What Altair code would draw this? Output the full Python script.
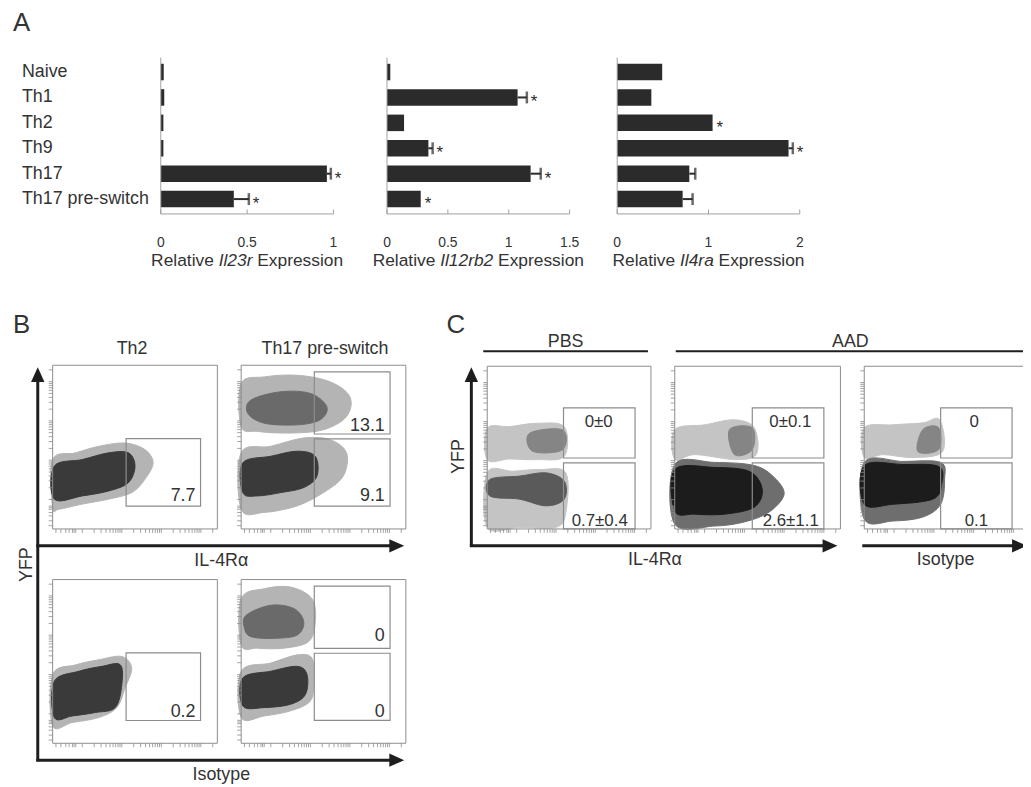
import altair as alt
import pandas as pd

# ------------------------------------------------------------------ data
CATEGORIES = ["Naive", "Th1", "Th2", "Th9", "Th17", "Th17 pre-switch"]
GENES = ["Il23r", "Il12rb2", "Il4ra"]

IL23R_MEAN = [0.017, 0.02, 0.015, 0.015, 0.962, 0.423]
IL23R_UPPER = [None, None, None, None, 0.985, 0.51]
IL23R_STAR = [False, False, False, False, True, True]
IL23R_TICKS = [0, 0.5, 1]
IL23R_TICK_LABELS = ["0", "0.5", "1"]

IL12RB2_MEAN = [0.027, 1.073, 0.14, 0.34, 1.18, 0.277]
IL12RB2_UPPER = [None, 1.149, None, 0.375, 1.263, None]
IL12RB2_STAR = [False, True, False, True, True, True]
IL12RB2_TICKS = [0, 0.5, 1, 1.5]
IL12RB2_TICK_LABELS = ["0", "0.5", "1", "1.5"]

IL4RA_MEAN = [0.493, 0.374, 1.045, 1.877, 0.79, 0.717]
IL4RA_UPPER = [None, None, None, 1.924, 0.855, 0.826]
IL4RA_STAR = [False, False, True, True, False, False]
IL4RA_TICKS = [0, 1, 2]
IL4RA_TICK_LABELS = ["0", "1", "2"]

# flow panels: outlines of the dot clouds (panel units 0-100), gates and gate values
FLOW_TICKS = [2, 5, 8, 10, 12, 13, 14, 18, 25.2, 29.4, 32.4, 34.8, 36.7, 38.3, 39.7, 40.9,
              42, 49.2, 53.4, 56.4, 58.8, 60.7, 62.3, 63.7, 64.9, 66, 73.2, 77.4, 80.4,
              82.8, 84.7, 86.3, 87.7, 88.9, 90, 97.2]

B1_OUTER = [(0, 42.4), (14, 46.5), (28, 50.5), (44, 52.5), (56, 48.5), (61, 40.4), (56, 30.3),
            (48, 22.2), (34, 18.2), (18, 15.2), (4, 12.1), (0, 13.1)]
B1_CORE = [(1, 38.4), (18, 42.4), (34, 46.5), (46, 46.5), (50, 38.4), (46, 28.3), (34, 23.2),
           (18, 20.2), (1, 18.2)]
B2_UP_OUTER = [(0, 88.9), (14, 92.9), (34, 93.9), (54, 89.9), (66, 80.8), (64, 68.7), (50, 60.6),
               (30, 58.6), (10, 59.6), (0, 62.6)]
B2_UP_CORE = [(6, 78.8), (24, 83.8), (42, 82.8), (52, 74.7), (48, 66.7), (34, 63.6), (14, 64.6),
              (4, 70.7)]
B2_LO_OUTER = [(0, 46.5), (18, 50.5), (38, 55.6), (54, 54.5), (64, 46.5), (62, 32.3), (50, 22.2),
               (34, 14.1), (14, 10.1), (0, 12.1)]
B2_LO_CORE = [(1, 40.4), (18, 44.4), (34, 47.5), (45, 44.4), (46, 32.3), (38, 25.3), (24, 22.2),
              (10, 20.2), (1, 22.2)]
B3_OUTER = [(0, 41.9), (14, 47.9), (28, 51), (42, 53), (48, 45.9), (44, 33.9), (39, 21.8),
            (28, 15.7), (12, 12.7), (0, 10.7)]
B3_CORE = [(1, 37.9), (16, 44), (30, 47), (41, 48), (42, 35.9), (38, 21.8), (26, 18.8),
           (12, 16.7), (1, 15.7)]
B4_UP_OUTER = [(0, 88.3), (14, 94.4), (30, 95.4), (43, 88.3), (45, 74.2), (41, 62.1), (26, 58.1),
               (10, 58.1), (0, 60.1)]
B4_UP_CORE = [(3, 78.2), (18, 84.3), (32, 82.3), (38, 74.2), (34, 66.1), (20, 64.1), (6, 65.1),
              (2, 70.2)]
B4_LO_OUTER = [(0, 44), (18, 49), (34, 54), (43, 52), (44, 37.9), (42, 25.8), (30, 19.8),
               (14, 16.7), (0, 15.7)]
B4_LO_CORE = [(1, 39.9), (18, 44), (34, 47), (40, 41.9), (39, 29.8), (30, 23.8), (14, 21.8),
              (1, 22.8)]

C1_UP_OUTER = [(0, 61.9), (13.7, 62.9), (29.8, 64.9), (47, 62.9), (47, 44.6), (29.8, 42.6),
               (13.7, 43), (0, 42.6)]
C1_UP_CORE = [(25.8, 58.8), (46, 60.9), (46, 48.7), (27.8, 47.7)]
C1_LO_OUTER = [(0, 34.5), (15.7, 35.5), (31.9, 36.5), (48, 34.5), (48, 10.1), (42, 1), (19.8, 1),
               (0, 1)]
C1_LO_CORE = [(1.6, 30.4), (19.8, 32.5), (35.9, 34.5), (47, 29.4), (47, 18.3), (35.9, 14.2),
              (19.8, 18.3), (1.6, 20.3)]
C2_UP_OUTER = [(0, 61), (18, 64), (36, 67.1), (48, 62.2), (49.2, 45.7), (36, 42.7), (12, 45.7),
               (0, 42.7)]
C2_UP_CORE = [(33, 61), (46.8, 62.2), (46.8, 48.8), (36, 45.7)]
C2_LO_OUTER = [(0, 39.6), (24, 40.9), (48, 39), (60, 31.7), (66, 21.3), (57, 10.4), (42, 4.3),
               (24, 1.8), (0, 3)]
C2_LO_CORE = [(0, 36.6), (24, 37.8), (45, 35.4), (52.8, 24.4), (48, 13.4), (30, 9.1), (12, 9.1),
              (0, 11)]
C3_UP_OUTER = [(0, 62.2), (17.4, 64), (35.3, 65.2), (45.5, 67.1), (47.3, 47.6), (29.3, 43.9),
               (11.4, 45.7), (0, 43.9)]
C3_UP_CORE = [(35.3, 61), (44.9, 62.2), (44.9, 48.8), (32.3, 47.6)]
C3_LO_OUTER = [(0, 40.9), (23.4, 41.5), (46.1, 40.9), (48.5, 30.5), (46.1, 15.2), (35.3, 7.3),
               (17.4, 4.9), (0, 6.1)]
C3_LO_CORE = [(0, 39), (23.4, 39.6), (44.9, 38.4), (46.7, 27.4), (41.3, 18.3), (17.4, 15.2),
              (0, 15.2)]

# gates: (x0, x1, y0, y1)
B_SINGLE_GATE = [(44.6, 89.8, 13.9, 55.2)]
B_DOUBLE_GATE = [(44.4, 90.4, 58, 96), (44.4, 90.4, 14, 55)]
C1_GATES = [(46.6, 90.3, 43.6, 74.4), (46.6, 90.3, 0, 40.6)]
C2_GATES = [(46.8, 90.0, 43.6, 74.4), (46.8, 90.0, 0, 40.6)]
C3_GATES = [(46.1, 89.2, 43.6, 74.4), (46.1, 89.2, 0, 40.6)]

# gate values: (x, y, text)
B1_VALUES = [(86.7, 16.8, "7.7")]
B2_VALUES = [(87.2, 60, "13.1"), (87.2, 16.8, "9.1")]
B3_VALUES = [(86.7, 16.3, "0.2")]
B4_VALUES = [(87.2, 62.5, "0"), (87.2, 16.3, "0")]
C1_VALUES = [(68.1, 62.9, "0±0"), (68.7, 2.0, "0.7±0.4")]
C2_VALUES = [(69.8, 62.9, "0±0.1"), (70.0, 2.0, "2.6±1.1")]
C3_VALUES = [(66.3, 62.9, "0"), (67.7, 2.0, "0.1")]

PANEL_LETTERS = ["A", "B", "C"]
B_COLUMN_TITLES = ["Th2", "Th17 pre-switch"]
C_GROUPS = ["PBS", "AAD"]
AXIS_NAMES = ["YFP", "IL-4Rα", "Isotype"]

# ------------------------------------------------------------------ style / layout
FONT = "Liberation Sans"
INK = "#2b2b2b"
TXT = "#333333"
AXIS_GREY = "#a0a0a0"
BOX = "#8c8c8c"
ARROW = "#1e1e1e"
LABEL_FS = 18

A_TOP, A_BOT = 47, 204
A_TICK_Y, A_TITLE_Y = 238, 257
A_XR = [(154, 328), (382, 566), (614, 798)]

CHAR_W = {"R": .722, "e": .556, "l": .222, "a": .556, "t": .278, "i": .222, "v": .5, " ": .278,
          "E": .667, "x": .5, "p": .556, "r": .333, "s": .5, "o": .556, "n": .556, "I": .278,
          "1": .556, "2": .556, "3": .556, "4": .556, "b": .556}


def tw(s, fs):
    return sum(CHAR_W.get(c, .556) for c in s) * fs


def one(text):
    return pd.DataFrame({"t": [text]})


def txt(text, x, y, fs=LABEL_FS, align="center", angle=0, style="normal"):
    kw = dict(align=align, baseline="alphabetic", fontSize=fs, font=FONT, color=TXT, fontStyle=style)
    if angle:
        kw.update(angle=angle, baseline="middle")
    return alt.Chart(one(text)).mark_text(**kw).encode(text="t:N", x=alt.value(x), y=alt.value(y))


def bar_panel(means, uppers, stars, domain, ticks, tick_labels, gene, xr, with_labels):
    ups = [u if u is not None else m for m, u in zip(means, uppers)]
    df = pd.DataFrame({"cat": CATEGORIES, "m": means, "u": ups, "s": stars})
    xs = alt.Scale(domain=domain, range=list(xr), nice=False)
    ys = alt.Scale(domain=CATEGORIES, range=[A_TOP, A_BOT], paddingInner=0.35, paddingOuter=0.24)

    def X(f):
        return alt.X(f + ":Q", scale=xs, axis=None)

    Y = alt.Y("cat:N", scale=ys, axis=None)
    layers = [alt.Chart(df).mark_bar(color=INK).encode(x=X("m"), y=Y)]
    edf = df[df.u > df.m]
    layers.append(alt.Chart(edf).mark_rule(color=INK, strokeWidth=2).encode(x=X("m"), x2="u:Q", y=Y))
    layers.append(alt.Chart(edf).mark_tick(color=INK, orient="vertical", size=12, thickness=2.5)
                  .encode(x=X("u"), y=Y))
    sdf = df[df.s]
    layers.append(alt.Chart(sdf).mark_text(text="*", align="left", baseline="alphabetic", dx=4, dy=10,
                                           fontSize=17, font=FONT, color=INK).encode(x=X("u"), y=Y))
    ax = pd.DataFrame({"z": [0.0], "e": [float(domain[1])]})
    layers.append(alt.Chart(ax).mark_rule(color=AXIS_GREY, strokeWidth=1)
                  .encode(x=X("z"), y=alt.value(A_TOP), y2=alt.value(A_BOT + 0.5)))
    layers.append(alt.Chart(ax).mark_rule(color=AXIS_GREY, strokeWidth=1)
                  .encode(x=X("z"), x2="e:Q", y=alt.value(A_BOT + 0.5)))
    tdf = pd.DataFrame({"t": ticks, "lab": tick_labels})
    layers.append(alt.Chart(tdf).mark_rule(color=AXIS_GREY, strokeWidth=1)
                  .encode(x=X("t"), y=alt.value(A_BOT - 4), y2=alt.value(A_BOT + 0.5)))
    layers.append(alt.Chart(tdf).mark_text(align="center", baseline="alphabetic", fontSize=14,
                                           font=FONT, color=TXT)
                  .encode(x=X("t"), y=alt.value(A_TICK_Y), text="lab:N"))
    if with_labels:
        layers.append(alt.Chart(df).mark_text(align="left", baseline="middle", fontSize=18,
                                              font=FONT, color=TXT)
                      .encode(x=alt.value(14), y=Y, text="cat:N"))
    fs = 17.5
    w1, w2, w3 = tw("Relative ", fs), tw(gene, fs), tw(" Expression", fs)
    x0 = (xr[0] + xr[1]) / 2 - (w1 + w2 + w3) / 2
    layers.append(txt("Relative", x0, A_TITLE_Y, fs, "left"))
    layers.append(txt(gene, x0 + w1, A_TITLE_Y, fs, "left", style="italic"))
    layers.append(txt("Expression", x0 + w1 + w2 + tw(" ", fs), A_TITLE_Y, fs, "left"))
    return alt.layer(*layers)


def flow_panel(xr, yr, clouds, gates, values, align, fs):
    xs = alt.Scale(domain=[0, 100], range=list(xr), nice=False, zero=False)
    ys = alt.Scale(domain=[0, 100], range=list(yr), nice=False, zero=False)

    def X(f):
        return alt.X(f + ":Q", scale=xs, axis=None)

    def Y(f):
        return alt.Y(f + ":Q", scale=ys, axis=None)

    layers = []
    for poly, col in clouds:
        d = pd.DataFrame({"x": [p[0] for p in poly], "y": [p[1] for p in poly],
                          "o": list(range(len(poly)))})
        layers.append(alt.Chart(d).mark_line(interpolate="cardinal-closed", strokeWidth=1)
                      .encode(x=X("x"), y=Y("y"), order="o:Q", fill=alt.value(col),
                              stroke=alt.value(col)))
    box = pd.DataFrame({"a": [0], "b": [100], "c": [0], "d": [100]})
    layers.append(alt.Chart(box).mark_rect(fill="transparent", stroke=BOX, strokeWidth=1)
                  .encode(x=X("a"), x2="b:Q", y=Y("c"), y2="d:Q"))
    gdf = pd.DataFrame(gates, columns=["x0", "x1", "y0", "y1"])
    layers.append(alt.Chart(gdf).mark_rect(fill="transparent", stroke=BOX, strokeWidth=1.2)
                  .encode(x=X("x0"), x2="x1:Q", y=Y("y0"), y2="y1:Q"))
    vdf = pd.DataFrame(values, columns=["x", "y", "t"])
    layers.append(alt.Chart(vdf).mark_text(align=align, baseline="alphabetic", fontSize=fs,
                                           font=FONT, color=TXT)
                  .encode(x=X("x"), y=Y("y"), text="t:N"))
    tk = pd.DataFrame({"t": FLOW_TICKS, "z": 0.0, "n": -2.4})
    layers.append(alt.Chart(tk).mark_rule(color=BOX, strokeWidth=0.8)
                  .encode(x=X("t"), y=Y("z"), y2="n:Q"))
    layers.append(alt.Chart(tk).mark_rule(color=BOX, strokeWidth=0.8)
                  .encode(y=Y("t"), x=X("z"), x2="n:Q"))
    return alt.layer(*layers)


LIGHT, DARK = "#b4b4b4", "#3a3a3a"
SPARSE, SPARSE_CORE = "#c4c4c4", "#858585"
DENSE_F, DENSE_C = "#6e6e6e", "#1c1c1c"

panels = [
    bar_panel(IL23R_MEAN, IL23R_UPPER, IL23R_STAR, [0, 1], IL23R_TICKS, IL23R_TICK_LABELS,
              GENES[0], A_XR[0], True),
    bar_panel(IL12RB2_MEAN, IL12RB2_UPPER, IL12RB2_STAR, [0, 1.5], IL12RB2_TICKS,
              IL12RB2_TICK_LABELS, GENES[1], A_XR[1], False),
    bar_panel(IL4RA_MEAN, IL4RA_UPPER, IL4RA_STAR, [0, 2], IL4RA_TICKS, IL4RA_TICK_LABELS,
              GENES[2], A_XR[2], False),
    flow_panel((45, 211), (522, 357), [(B1_OUTER, LIGHT), (B1_CORE, DARK)], B_SINGLE_GATE,
               B1_VALUES, "right", 18),
    flow_panel((235, 401), (522, 357), [(B2_UP_OUTER, LIGHT), (B2_UP_CORE, "#6a6a6a"),
                                        (B2_LO_OUTER, LIGHT), (B2_LO_CORE, DARK)],
               B_DOUBLE_GATE, B2_VALUES, "right", 18),
    flow_panel((45, 211), (738, 573), [(B3_OUTER, LIGHT), (B3_CORE, DARK)], B_SINGLE_GATE,
               B3_VALUES, "right", 18),
    flow_panel((235, 401), (738, 573), [(B4_UP_OUTER, LIGHT), (B4_UP_CORE, "#6a6a6a"),
                                        (B4_LO_OUTER, LIGHT), (B4_LO_CORE, DARK)],
               B_DOUBLE_GATE, B4_VALUES, "right", 18),
    flow_panel((483, 648), (522, 358), [(C1_UP_OUTER, SPARSE), (C1_UP_CORE, SPARSE_CORE),
                                        (C1_LO_OUTER, SPARSE), (C1_LO_CORE, "#5a5a5a")],
               C1_GATES, C1_VALUES, "center", 17),
    flow_panel((672, 839), (522, 358), [(C2_UP_OUTER, SPARSE), (C2_UP_CORE, SPARSE_CORE),
                                        (C2_LO_OUTER, DENSE_F), (C2_LO_CORE, DENSE_C)],
               C2_GATES, C2_VALUES, "center", 17),
    flow_panel((863, 1030), (522, 358), [(C3_UP_OUTER, SPARSE), (C3_UP_CORE, SPARSE_CORE),
                                         (C3_LO_OUTER, DENSE_F), (C3_LO_CORE, DENSE_C)],
               C3_GATES, C3_VALUES, "center", 17),
]

# ------------------------------------------------------------------ decorations
UP = "M0,-1L0.9,1L-0.9,1Z"
RIGHT = "M1,0L-1,-0.9L-1,0.9Z"


def vrule(x, y1, y2, w=3):
    return alt.Chart(one("r")).mark_rule(color=ARROW, strokeWidth=w).encode(
        x=alt.value(x), y=alt.value(y1), y2=alt.value(y2))


def hrule(y, x1, x2, w=3):
    return alt.Chart(one("r")).mark_rule(color=ARROW, strokeWidth=w).encode(
        y=alt.value(y), x=alt.value(x1), x2=alt.value(x2))


def head(shape, x, y):
    return alt.Chart(one("h")).mark_point(shape=shape, size=225, filled=True, color=ARROW,
                                          opacity=1, strokeWidth=0).encode(
        x=alt.value(x), y=alt.value(y))


decos = [
    txt(PANEL_LETTERS[0], 5, 20, 26, "left"),
    txt(PANEL_LETTERS[1], 5, 324, 26, "left"),
    txt(PANEL_LETTERS[2], 442, 324, 26, "left"),
    txt(B_COLUMN_TITLES[0], 125, 346),
    txt(B_COLUMN_TITLES[1], 319.5, 346),
    txt(AXIS_NAMES[0], 19, 558, angle=270),
    txt(AXIS_NAMES[1], 215, 559),
    txt(AXIS_NAMES[2], 215, 775),
    txt(C_GROUPS[0], 562, 339),
    txt(C_GROUPS[1], 849, 339),
    txt(AXIS_NAMES[0], 455, 449, angle=270),
    txt(AXIS_NAMES[1], 652, 558),
    txt(AXIS_NAMES[2], 945, 558),
    hrule(343, 479, 645, 2),
    hrule(343, 673, 1023, 2),
    # B arrows
    vrule(30, 756, 372),
    hrule(539, 28.5, 386),
    hrule(755, 28.5, 386),
    head(UP, 30, 366.5),
    head(RIGHT, 391.8, 539),
    head(RIGHT, 391.8, 755),
    # C arrows
    vrule(467, 540, 372),
    hrule(539, 465.5, 822),
    head(UP, 467, 366.5),
    head(RIGHT, 828.5, 539),
    hrule(539, 861, 1014),
    head(RIGHT, 1019.5, 539),
]

chart = (
    alt.layer(*panels, *decos)
    .resolve_scale(x="independent", y="independent")
    .properties(width=1023, height=779, padding=0, autosize=alt.AutoSizeParams(type="none"))
    .configure_view(stroke=None)
)

chart.save("out.html", embed_options={"renderer": "svg", "actions": False})
